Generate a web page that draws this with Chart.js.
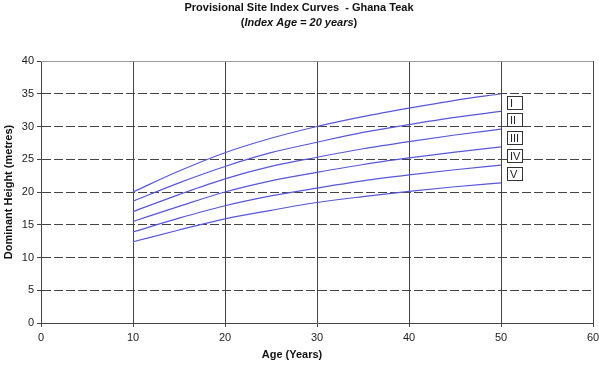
<!DOCTYPE html>
<html>
<head>
<meta charset="utf-8">
<script src="https://cdn.jsdelivr.net/npm/chart.js@4/dist/chart.umd.min.js"></script>
<style>
  html, body { margin: 0; padding: 0; background: #fff; }
  #wrap { width: 599px; height: 368px; }
</style>
</head>
<body>
<div id="wrap"><canvas id="siteIndex"></canvas></div>
<script>
// Age (years) at which the curves were read
const ages = [10, 15, 20, 25, 30, 35, 40, 45, 50]

// Dominant height (m) for the six curve boundaries, top to bottom
const curveA = [20.0, 23.2, 26.0, 28.2, 30.0, 31.5, 32.8, 34.0, 35.0]
const curveB = [18.6, 21.4, 23.9, 26.0, 27.6, 29.1, 30.3, 31.4, 32.3]
const curveC = [17.0, 19.6, 22.0, 23.9, 25.3, 26.6, 27.7, 28.7, 29.6]
const curveD = [15.5, 17.8, 20.0, 21.7, 23.0, 24.2, 25.2, 26.1, 26.9]
const curveE = [13.9, 16.0, 17.9, 19.4, 20.6, 21.7, 22.6, 23.4, 24.1]
const curveF = [12.4, 14.2, 15.9, 17.2, 18.4, 19.3, 20.1, 20.8, 21.4]

// Site class labels that sit between the curves
const siteClasses = ['I', 'II', 'III', 'IV', 'V']

const xTicks = [0, 10, 20, 30, 40, 50, 60]
const yTicks = [0, 5, 10, 15, 20, 25, 30, 35, 40]

const curves = [curveA, curveB, curveC, curveD, curveE, curveF]
const FONT = '"Liberation Sans", Arial, sans-serif'
const LINE = '#5757dc'

// titles, plot border and the little I..V boxes
const decorations = {
    id: 'decorations',
    afterDraw (chart) {
        const { ctx, chartArea, scales } = chart
        ctx.save()

        // plot area border (top line is grey in the original)
        ctx.strokeStyle = '#9a9a9a'
        ctx.lineWidth = 1
        ctx.beginPath()
        ctx.moveTo(chartArea.left, chartArea.top + 0.5)
        ctx.lineTo(chartArea.right, chartArea.top + 0.5)
        ctx.stroke()

        // main title
        ctx.fillStyle = '#111'
        ctx.textAlign = 'center'
        ctx.textBaseline = 'middle'
        ctx.font = 'bold 11px ' + FONT
        ctx.fillText('Provisional Site Index Curves  - Ghana Teak', 299, 8)

        // second line: bold parens, bold italic inside
        const inner = 'Index Age = 20 years'
        ctx.font = 'bold 11px ' + FONT
        const wp = ctx.measureText('(').width
        ctx.font = 'italic bold 11px ' + FONT
        const wi = ctx.measureText(inner).width
        let x = 299 - (wp * 2 + wi) / 2
        ctx.textAlign = 'left'
        ctx.font = 'bold 11px ' + FONT
        ctx.fillText('(', x, 23)
        ctx.font = 'italic bold 11px ' + FONT
        ctx.fillText(inner, x + wp, 23)
        ctx.font = 'bold 11px ' + FONT
        ctx.fillText(')', x + wp + wi, 23)

        // x axis title
        ctx.textAlign = 'center'
        ctx.fillText('Age (Years)', 292, 355)

        // site class boxes
        const xs = scales.x
        const ys = scales.y
        const last = ages.length - 1
        ctx.font = '11px ' + FONT
        siteClasses.forEach((lab, i) => {
            const y1 = ys.getPixelForValue(curves[i][last])
            const y2 = ys.getPixelForValue(curves[i + 1][last])
            const cy = Math.round((y1 + y2) / 2)
            const bx = Math.round(xs.getPixelForValue(ages[last])) + 6
            ctx.fillStyle = '#fff'
            ctx.fillRect(bx + 0.5, cy - 6.5, 15, 13)
            ctx.strokeStyle = '#333'
            ctx.strokeRect(bx + 0.5, cy - 6.5, 15, 13)
            ctx.fillStyle = '#222'
            ctx.textAlign = 'left'
            ctx.fillText(lab, bx + 3, cy + 1)
        })
        ctx.restore()
    }
}

const datasets = curves.map((c) => ({
    data: c,
    borderColor: LINE,
    borderWidth: 1.2,
    pointRadius: 0,
    fill: false,
    cubicInterpolationMode: 'monotone'
}))

new Chart(document.getElementById('siteIndex'), {
    type: 'line',
    data: {
        datasets: datasets.map((d) => ({
            ...d,
            data: d.data.map((v, i) => ({ x: ages[i], y: v }))
        }))
    },
    options: {
        responsive: true,
        maintainAspectRatio: false,
        animation: false,
        layout: { padding: { top: 61, right: 0, left: 0, bottom: 0 } },
        plugins: {
            legend: { display: false },
            tooltip: { enabled: false }
        },
        scales: {
            x: {
                type: 'linear',
                min: 0,
                max: 60,
                afterBuildTicks: (s) => { s.ticks = xTicks.map((v) => ({ value: v })) },
                afterFit: (s) => { s.height = 45; s.paddingRight = 6 },
                ticks: { color: '#222', font: { family: FONT, size: 11 }, padding: 4 },
                grid: {
                    color: '#444',
                    lineWidth: 1,
                    tickLength: 4,
                    tickColor: '#444'
                },
                border: { color: '#444', width: 1 }
            },
            y: {
                type: 'linear',
                min: 0,
                max: 40,
                afterBuildTicks: (s) => { s.ticks = yTicks.map((v) => ({ value: v })) },
                afterFit: (s) => { s.width = 41 },
                ticks: { color: '#222', font: { family: FONT, size: 11 }, padding: 3 },
                title: {
                    display: true,
                    text: 'Dominant Height (metres)',
                    color: '#111',
                    font: { family: FONT, size: 11, weight: 'bold' },
                    padding: { top: 2, bottom: 0 }
                },
                grid: {
                    color: (c) => (c.tick && c.tick.value === 40 ? 'rgba(0,0,0,0)' : '#444'),
                    lineWidth: 1,
                    tickLength: 4,
                    tickColor: '#444',
                    tickBorderDash: []
                },
                border: { color: '#444', width: 1, dash: [9, 3] }
            }
        }
    },
    plugins: [decorations]
})
</script>
</body>
</html>
